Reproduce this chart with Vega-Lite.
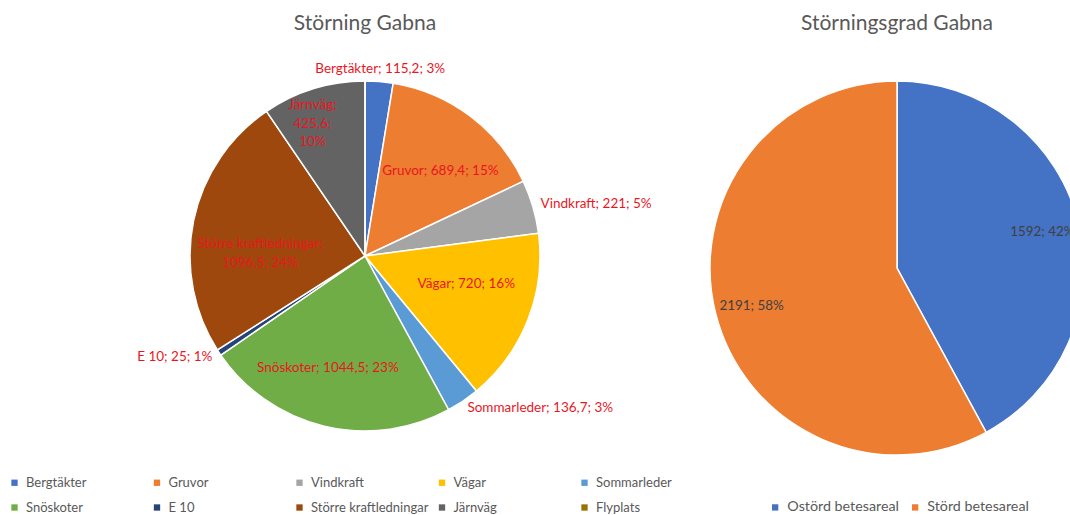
{
  "$schema": "https://vega.github.io/schema/vega-lite/v6.json",
  "padding": {"left": 0, "top": 13, "right": 0, "bottom": 0},
  "spacing": 0,
  "bounds": "flush",
  "background": "white",
  "config": {
    "view": {"stroke": null},
    "font": "Lato",
    "title": {"fontSize": 21, "fontWeight": "normal", "color": "#595959", "font": "Lato", "offset": 12, "anchor": "middle"},
    "legend": {"labelFont": "Lato", "labelFontSize": 13, "labelColor": "#595959", "symbolType": "square", "symbolSize": 40, "symbolStrokeWidth": 0, "title": null, "labelOffset": 5}
  },
  "datasets": {
    "storning": [
      {"kategori": "Bergtäkter", "yta": 115.2, "ordning": 1, "etikett": "Bergtäkter; 115,2; 3%"},
      {"kategori": "Gruvor", "yta": 689.4, "ordning": 2, "etikett": "Gruvor; 689,4; 15%"},
      {"kategori": "Vindkraft", "yta": 221, "ordning": 3, "etikett": "Vindkraft; 221; 5%"},
      {"kategori": "Vägar", "yta": 720, "ordning": 4, "etikett": "Vägar; 720; 16%"},
      {"kategori": "Sommarleder", "yta": 136.7, "ordning": 5, "etikett": "Sommarleder; 136,7; 3%"},
      {"kategori": "Snöskoter", "yta": 1044.5, "ordning": 6, "etikett": "Snöskoter; 1044,5; 23%"},
      {"kategori": "E 10", "yta": 25, "ordning": 7, "etikett": "E 10; 25; 1%"},
      {"kategori": "Större kraftledningar", "yta": 1096.5, "ordning": 8, "etikett": "Större kraftledningar;\n1096,5; 24%"},
      {"kategori": "Järnväg", "yta": 425.6, "ordning": 9, "etikett": "Järnväg;\n425,6;\n10%"},
      {"kategori": "Flyplats", "yta": 0, "ordning": 10, "etikett": ""}
    ],
    "grad": [
      {"kategori": "Ostörd betesareal", "yta": 1592, "ordning": 1, "etikett": "1592; 42%"},
      {"kategori": "Störd betesareal", "yta": 2191, "ordning": 2, "etikett": "2191; 58%"}
    ]
  },
  "resolve": {"scale": {"color": "independent"}, "legend": {"color": "independent"}},
  "hconcat": [
    {
      "title": {"text": "Störning Gabna"},
      "width": 730,
      "height": 420,
      "data": {"name": "storning"},
      "encoding": {
        "theta": {"field": "yta", "type": "quantitative", "stack": true},
        "order": {"field": "ordning", "type": "quantitative"}
      },
      "layer": [
        {
          "mark": {"type": "arc", "outerRadius": 175, "stroke": "white", "strokeWidth": 1.5},
          "encoding": {
            "color": {
              "field": "kategori", "type": "nominal",
              "scale": {
                "domain": ["Bergtäkter", "Gruvor", "Vindkraft", "Vägar", "Sommarleder", "Snöskoter", "E 10", "Större kraftledningar", "Järnväg", "Flyplats"],
                "range": ["#4472C4", "#ED7D31", "#A5A5A5", "#FFC000", "#5B9BD5", "#70AD47", "#264478", "#9E480E", "#636363", "#997300"]
              },
              "legend": {"orient": "none", "legendX": 8, "legendY": 430, "columns": 5, "direction": "horizontal", "gridAlign": "all", "columnPadding": 6.5, "rowPadding": 11}
            }
          }
        },
        {
          "mark": {"type": "text", "radius": 112, "dx": 8, "dy": 4, "fontSize": 13.5, "color": "#E8171F", "align": "center", "baseline": "middle"},
          "encoding": {"text": {"condition": {"test": "datum.kategori === 'Gruvor'", "field": "etikett"}, "value": ""}}
        },
        {
          "mark": {"type": "text", "radius": 112, "dx": -3, "dy": -13, "fontSize": 13.5, "color": "#E8171F", "align": "center", "baseline": "middle"},
          "encoding": {"text": {"condition": {"test": "datum.kategori === 'Vägar'", "field": "etikett"}, "value": ""}}
        },
        {
          "mark": {"type": "text", "radius": 112, "dx": -11, "dy": 3, "fontSize": 13.5, "color": "#E8171F", "align": "center", "baseline": "middle"},
          "encoding": {"text": {"condition": {"test": "datum.kategori === 'Snöskoter'", "field": "etikett"}, "value": ""}}
        },
        {
          "mark": {"type": "text", "radius": 107, "dy": 9.5, "fontSize": 13.5, "lineHeight": 19, "color": "#E8171F", "lineBreak": "\n", "align": "center", "baseline": "middle"},
          "encoding": {"text": {"condition": {"test": "datum.kategori === 'Större kraftledningar'", "field": "etikett"}, "value": ""}}
        },
        {
          "mark": {"type": "text", "radius": 158, "dx": -6, "fontSize": 13.5, "lineHeight": 18.5, "color": "#E8171F", "lineBreak": "\n", "align": "center", "baseline": "middle"},
          "encoding": {"text": {"condition": {"test": "datum.kategori === 'Järnväg'", "field": "etikett"}, "value": ""}}
        },
        {
          "mark": {"type": "text", "radius": 188, "fontSize": 13.5, "color": "#E8171F", "align": "center", "baseline": "middle"},
          "encoding": {"text": {"condition": {"test": "datum.kategori === 'Bergtäkter'", "field": "etikett"}, "value": ""}}
        },
        {
          "mark": {"type": "text", "radius": 183, "fontSize": 13.5, "color": "#E8171F", "align": "left", "baseline": "middle"},
          "encoding": {"text": {"condition": {"test": "indexof(['Vindkraft','Sommarleder'], datum.kategori) >= 0", "field": "etikett"}, "value": ""}}
        },
        {
          "mark": {"type": "text", "radius": 183, "fontSize": 13.5, "color": "#E8171F", "align": "right", "baseline": "middle"},
          "encoding": {"text": {"condition": {"test": "datum.kategori === 'E 10'", "field": "etikett"}, "value": ""}}
        }
      ]
    },
    {
      "title": {"text": "Störningsgrad Gabna"},
      "width": 334,
      "height": 444,
      "data": {"name": "grad"},
      "encoding": {
        "theta": {"field": "yta", "type": "quantitative", "stack": true},
        "order": {"field": "ordning", "type": "quantitative"}
      },
      "layer": [
        {
          "mark": {"type": "arc", "outerRadius": 187, "stroke": "white", "strokeWidth": 1.5},
          "encoding": {
            "color": {
              "field": "kategori", "type": "nominal",
              "scale": {"domain": ["Ostörd betesareal", "Störd betesareal"], "range": ["#4472C4", "#ED7D31"]},
              "legend": {"orient": "none", "legendX": 38, "legendY": 454, "columns": 2, "direction": "horizontal", "columnPadding": 9, "labelFontSize": 14.3}
            }
          }
        },
        {
          "mark": {"type": "text", "radius": 150, "dy": 1, "fontSize": 13.4, "color": "#404040", "align": "center", "baseline": "middle"},
          "encoding": {"text": {"field": "etikett"}}
        }
      ]
    }
  ]
}
